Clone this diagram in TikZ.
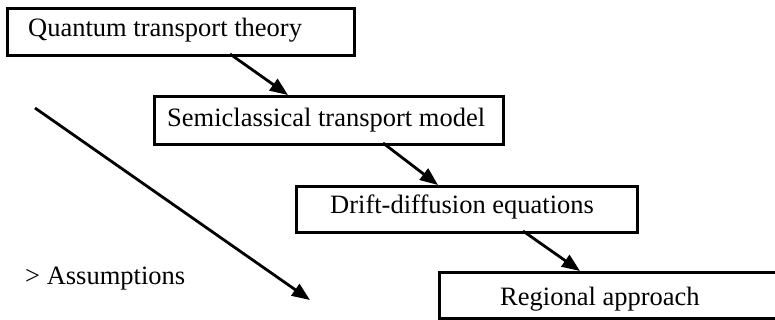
\documentclass[tikz,border=0pt]{standalone}
\usepackage{fontspec}
\setmainfont{Liberation Serif}
\usetikzlibrary{arrows.meta}
\begin{document}
\begin{tikzpicture}[x=1pt,y=-1pt,
  boxst/.style={draw,line width=3pt,rectangle,inner sep=0pt,anchor=north west},
  lbl/.style={inner sep=0pt,anchor=base west,font=\fontsize{26.5}{31}\selectfont},
  arr/.style={line width=2.8pt,-{Triangle[length=18pt,width=14pt]}}]
\useasboundingbox (0,0) rectangle (775,320);
\node[boxst,minimum width=347pt,minimum height=47pt] (b1) at (6,7) {};
\node[lbl] (t1) at (28,37) {Quantum transport theory};
\node[boxst,minimum width=349pt,minimum height=48pt] (b2) at (153,95) {};
\node[lbl] (t2) at (167,127) {Semiclassical transport model};
\node[boxst,minimum width=341pt,minimum height=46pt] (b3) at (295,185) {};
\node[lbl] (t3) at (330,214) {Drift-diffusion equations};
\node[boxst,minimum width=360pt,minimum height=46pt] (b4) at (438,271) {};
\node[lbl] (t4) at (500,305) {Regional approach};
\node[lbl] (t5) at (25,284) {> Assumptions};
\coordinate (a1s) at (230,54);
\coordinate (a1e) at (288,95);
\coordinate (a2s) at (383,143);
\coordinate (a2e) at (438,185);
\coordinate (a3s) at (523,231);
\coordinate (a3e) at (580,271);
\coordinate (a4s) at (35,108);
\coordinate (a4e) at (310,300);
\draw[arr] (a1s) -- (a1e);
\draw[arr] (a2s) -- (a2e);
\draw[arr] (a3s) -- (a3e);
\draw[arr] (a4s) -- (a4e);
\end{tikzpicture}
\end{document}
